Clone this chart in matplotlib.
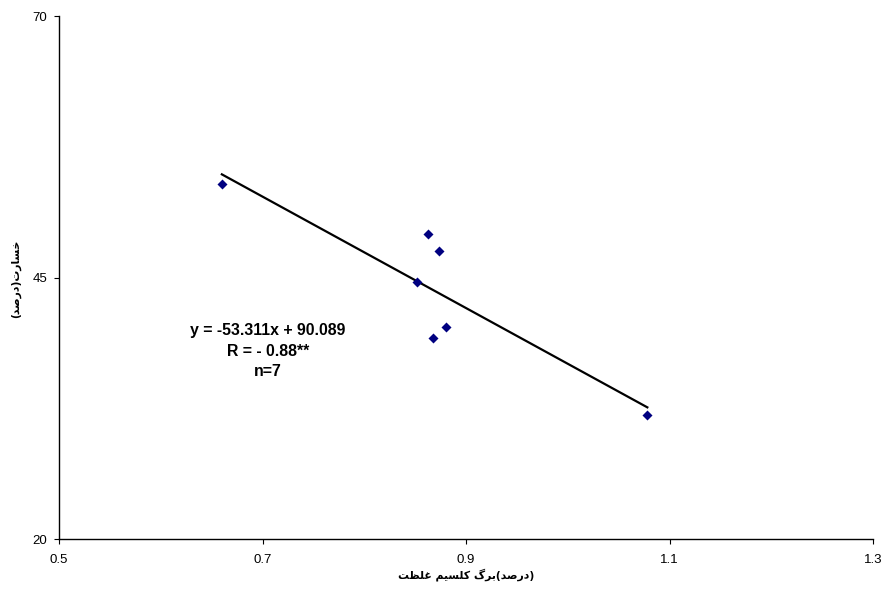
import matplotlib
matplotlib.use("Agg")
import matplotlib.pyplot as plt
import numpy as np

# Data
calcium = [0.660, 0.863, 0.873, 0.852, 0.880, 0.867, 1.078]
damage = [53.95, 49.17, 47.54, 44.64, 40.30, 39.25, 31.89]
slope = -53.311
intercept = 90.089
x_ticks = [0.5, 0.7, 0.9, 1.1, 1.3]
y_ticks = [20, 45, 70]
eq_lines = ["y = -53.311x + 90.089", "R = - 0.88**", "n=7"]

# Persian labels written with Arabic presentation forms in visual order
xlabel = ("\uFE96\uFEC8\uFEE0\uFECF" + " " + "\uFEE2\uFEF4\uFEB4\uFEE0\uFEDB" + " "
          + "\uFB92\uFEAE\uFE91" + "(" + "\uFEAA\uFEBB\uFEAD\uFEA9" + ")")
ylabel = ("(" + "\uFEAA\uFEBB\uFEAD\uFEA9" + ")" + "\uFE95\uFEAD\uFE8E\uFEB4\uFEA7")

W, H = 881, 594
fig = plt.figure(figsize=(W / 100, H / 100), dpi=100)
ax = fig.add_axes([59 / W, 1 - 539.3 / H, (873.3 - 59) / W, (539.3 - 16.5) / H])

ax.scatter(calcium, damage, marker="D", s=26, color="#000080", zorder=3, linewidths=0)
xs = np.array([min(calcium), max(calcium)])
ax.plot(xs, slope * xs + intercept, color="black", lw=1.6, zorder=2)

ax.set_xlim(0.5, 1.3)
ax.set_ylim(20, 70)
ax.set_xticks(x_ticks)
ax.set_yticks(y_ticks)
ax.set_xticklabels([f"{v:.1f}" for v in x_ticks], fontfamily="Liberation Sans", fontsize=9.5)
ax.set_yticklabels([str(v) for v in y_ticks], fontfamily="Liberation Sans", fontsize=9.5)
ax.tick_params(axis="x", direction="out", length=3.5, width=0.8, pad=7)
ax.tick_params(axis="y", direction="out", length=3.5, width=0.8, pad=5)
for s in ["top", "right"]:
    ax.spines[s].set_visible(False)
for s in ["left", "bottom"]:
    ax.spines[s].set_linewidth(1.0)
    ax.spines[s].set_color("black")

fig.text(466 / W, 1 - 575 / H, xlabel, ha="center", va="center",
         fontsize=7.8, fontweight="bold", family=["DejaVu Sans"])
fig.text(16 / W, 1 - 279 / H, ylabel, ha="center", va="center", rotation=90,
         fontsize=7.8, fontweight="bold", family=["DejaVu Sans"])

for i, t in enumerate(eq_lines):
    fig.text(268 / W, 1 - (331 + 20.5 * i) / H, t, ha="center", va="center",
             fontsize=11.4, fontweight="bold", family=["Liberation Sans"])

fig.savefig("out.png", dpi=100)
